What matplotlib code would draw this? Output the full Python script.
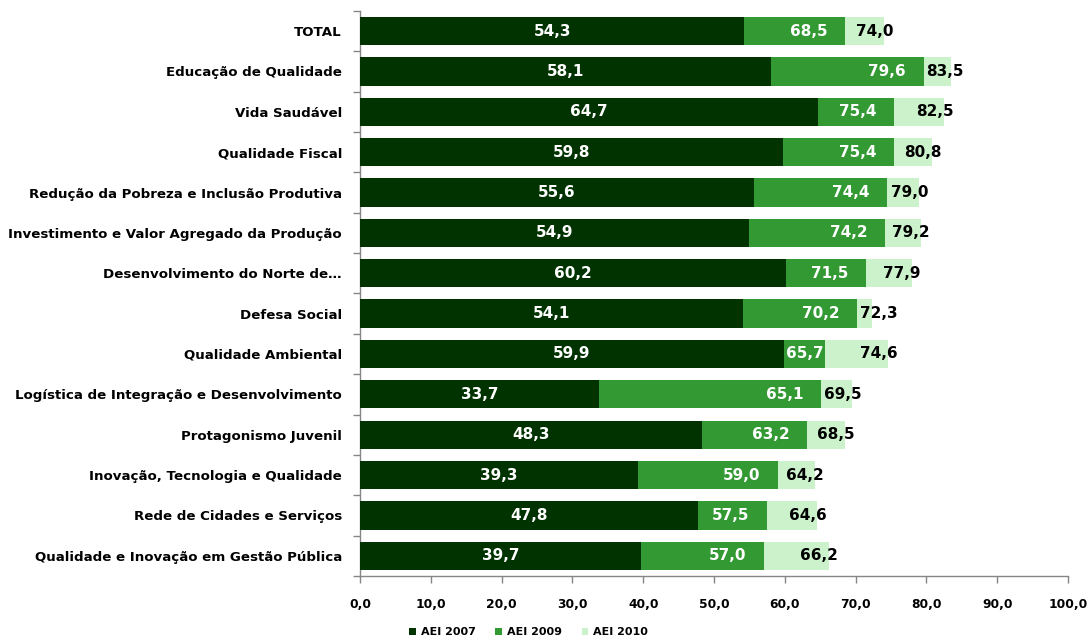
import matplotlib
matplotlib.use("Agg")
import matplotlib.pyplot as plt
from matplotlib.patches import Patch
import numpy as np

categories = [
    "TOTAL",
    "Educação de Qualidade",
    "Vida Saudável",
    "Qualidade Fiscal",
    "Redução da Pobreza e Inclusão Produtiva",
    "Investimento e Valor Agregado da Produção",
    "Desenvolvimento do Norte de…",
    "Defesa Social",
    "Qualidade Ambiental",
    "Logística de Integração e Desenvolvimento",
    "Protagonismo Juvenil",
    "Inovação, Tecnologia e Qualidade",
    "Rede de Cidades e Serviços",
    "Qualidade e Inovação em Gestão Pública",
]
aei_2007 = [54.3, 58.1, 64.7, 59.8, 55.6, 54.9, 60.2, 54.1, 59.9, 33.7, 48.3, 39.3, 47.8, 39.7]
aei_2009 = [68.5, 79.6, 75.4, 75.4, 74.4, 74.2, 71.5, 70.2, 65.7, 65.1, 63.2, 59.0, 57.5, 57.0]
aei_2010 = [74.0, 83.5, 82.5, 80.8, 79.0, 79.2, 77.9, 72.3, 74.6, 69.5, 68.5, 64.2, 64.6, 66.2]
series_names = ["AEI 2007", "AEI 2009", "AEI 2010"]
x_ticks = np.arange(0, 101, 10)

c07, c09, c10 = "#003300", "#339933", "#CCF2CC"
axis_grey = "#868686"

plt.rcParams["font.family"] = ["DejaVu Sans"]
plt.rcParams["font.weight"] = "bold"

fig = plt.figure(figsize=(10.92, 6.40), dpi=100)
ax = fig.add_axes([0.3297, 0.100, 0.6483, 0.883])

y = np.arange(len(categories))
h = 0.70
ax.barh(y, aei_2010, height=h, color=c10, zorder=1)
ax.barh(y, aei_2009, height=h, color=c09, zorder=2)
ax.barh(y, aei_2007, height=h, color=c07, zorder=3)

fs_val = 11
for i in range(len(categories)):
    v07, v09, v10 = aei_2007[i], aei_2009[i], aei_2010[i]
    ax.text(v07 / 2, i, f"{v07:.1f}".replace(".", ","), ha="center", va="center",
            color="white", fontsize=fs_val, fontweight="bold", zorder=5)
    x09 = max(v09 - 2.5, v07 + 5.6)
    ax.text(x09, i, f"{v09:.1f}".replace(".", ","), ha="right", va="center",
            color="white", fontsize=fs_val, fontweight="bold", zorder=5)
    x10 = max(v09 + 0.4, v10 - 4.0)
    ax.text(x10, i, f"{v10:.1f}".replace(".", ","), ha="left", va="center",
            color="black", fontsize=fs_val, fontweight="bold", zorder=5)

ax.set_xlim(0, 100)
ax.set_ylim(len(categories) - 0.5, -0.5)

ax.set_xticks(x_ticks)
ax.set_xticklabels([f"{t:.1f}".replace(".", ",") for t in x_ticks],
                   fontsize=8.8, fontweight="bold")
ax.tick_params(axis="x", direction="out", length=5, width=1, color=axis_grey, pad=11)

ax.set_yticks(y)
ax.set_yticklabels(categories, fontsize=9.6, fontweight="bold")
ax.tick_params(axis="y", which="major", length=0, pad=13)
ax.set_yticks(np.arange(-0.5, len(categories), 1.0), minor=True)
ax.tick_params(axis="y", which="minor", direction="out", length=5, width=1, color=axis_grey)

for side in ("top", "right"):
    ax.spines[side].set_visible(False)
for side in ("left", "bottom"):
    ax.spines[side].set_color(axis_grey)
    ax.spines[side].set_linewidth(1)

handles = [Patch(facecolor=c, edgecolor="none") for c in (c07, c09, c10)]
fig.legend(handles, series_names, loc="center", bbox_to_anchor=(0.484, 0.0125),
           ncol=3, frameon=False, prop={"weight": "bold", "size": 8},
           handlelength=0.6, handleheight=0.6, handletextpad=0.4, columnspacing=1.8)

fig.savefig("out.png", dpi=100, facecolor="white")
